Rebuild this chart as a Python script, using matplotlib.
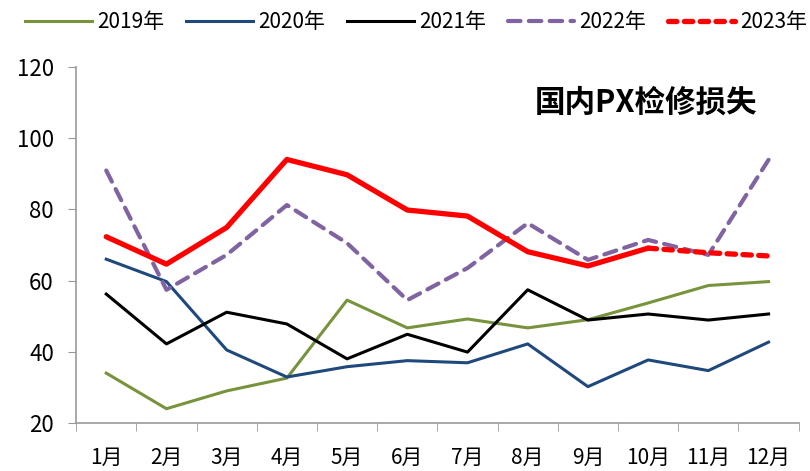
import matplotlib.pyplot as plt

plt.rcParams['font.family'] = ['Noto Sans CJK SC', 'DejaVu Sans']

months = ["1月", "2月", "3月", "4月", "5月", "6月", "7月", "8月", "9月", "10月", "11月", "12月"]

y2019 = [34.0, 24.0, 29.0, 32.6, 54.5, 46.7, 49.2, 46.7, 49.0, 53.7, 58.6, 59.7]
y2020 = [66.0, 59.7, 40.5, 32.9, 35.8, 37.5, 36.9, 42.2, 30.2, 37.7, 34.7, 42.7]
y2021 = [56.2, 42.2, 51.1, 47.8, 38.0, 44.9, 39.9, 57.4, 48.9, 50.6, 48.9, 50.6]
y2022 = [90.9, 57.4, 67.2, 81.2, 70.5, 54.5, 63.5, 76.1, 65.8, 71.4, 67.2, 93.9]
y2023 = [72.3, 64.6, 74.9, 94.0, 89.7, 79.8, 78.1, 68.1, 64.1, 69.1, 67.8, 66.9]
split = 9  # 2023 turns to a dashed forecast after 10月

fig = plt.figure(figsize=(8.1, 4.71), dpi=100)
ax = fig.add_axes([0.094, 0.102, 0.892, 0.756])

x = list(range(len(months)))
ax.plot(x, y2019, color="#77933C", lw=2.2, label="2019年")
ax.plot(x, y2020, color="#1F497D", lw=2.2, label="2020年")
ax.plot(x, y2021, color="black", lw=2.2, label="2021年")
ax.plot(x, y2022, color="#8064A2", lw=3, ls=(0, (3.0, 2.0)),
        dash_capstyle="round", label="2022年")
ax.plot(x[:split + 1], y2023[:split + 1], color="#FF0000", lw=3.8,
        solid_capstyle="round")
ax.plot(x[split:], y2023[split:], color="#FF0000", lw=3.8, ls=(0, (1.6, 1.4)),
        dash_capstyle="round", label="2023年")

ax.set_xlim(-0.5, 11.5)
ax.set_ylim(20, 120)
ax.set_yticks([20, 40, 60, 80, 100, 120])
ax.set_xticks(x)
ax.set_xticklabels(months)
ax.set_xticks([i - 0.5 for i in range(13)], minor=True)
ax.tick_params(axis="x", which="major", length=0, pad=17, labelsize=15)
ax.tick_params(axis="x", which="minor", length=6, color="#999999")
ax.tick_params(axis="y", length=6, color="#999999", labelsize=16, pad=10)

for s in ["top", "right"]:
    ax.spines[s].set_visible(False)
for s in ["left", "bottom"]:
    ax.spines[s].set_color("#999999")
    ax.spines[s].set_linewidth(1.2)

ax.text(0.943, 0.9, "国内PX检修损失", transform=ax.transAxes, ha="right",
        va="center", fontsize=22, fontweight="bold")

fig.legend(loc="center", bbox_to_anchor=(0.514, 0.953), ncol=5, frameon=False,
           fontsize=15, handlelength=3.2, handletextpad=0.25, columnspacing=1.05)

fig.savefig("out.png", dpi=100)
